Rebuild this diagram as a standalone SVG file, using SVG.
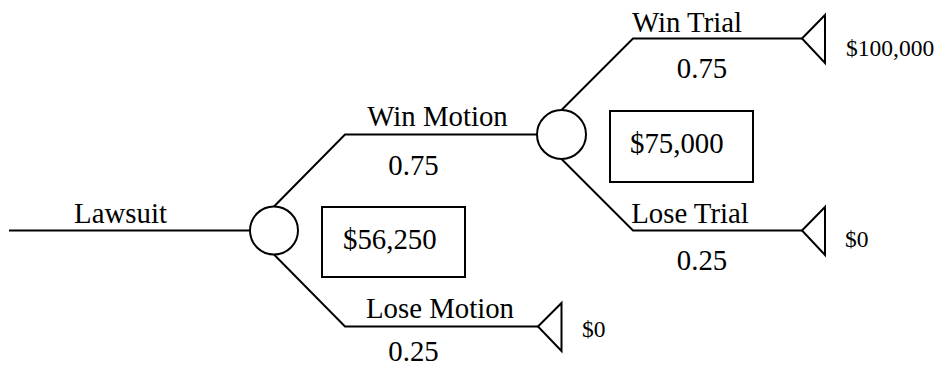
<svg xmlns="http://www.w3.org/2000/svg" width="936" height="368" viewBox="0 0 936 368">
<style>
.ln{stroke:#000;stroke-width:2;fill:none}
.nd{stroke:#000;stroke-width:2;fill:#fff}
.c{text-anchor:middle}
</style>
<rect width="936" height="368" fill="#fff"/>
<g id="connectors">
<path class="ln" d="M9,230.5 H250"/>
<path class="ln" d="M274,206.5 L345,134.5 H537.5"/>
<path class="ln" d="M274,254.5 L345,326.5 H538"/>
<path class="ln" d="M561.5,110 L633,38.5 H802"/>
<path class="ln" d="M561.5,159 L633,230.5 H802"/>
</g>
<g id="labels" font-family="Liberation Serif, Tinos, Times New Roman, DejaVu Serif, serif" font-size="28.8" fill="#000">
<text class="c" x="120.5" y="223">Lawsuit</text>
<text class="c" x="437.5" y="126">Win Motion</text>
<text class="c" x="413.5" y="175">0.75</text>
<text class="c" x="440" y="318">Lose Motion</text>
<text class="c" x="413.5" y="361">0.25</text>
<text class="c" x="687" y="32">Win Trial</text>
<text class="c" x="702" y="78">0.75</text>
<text class="c" x="690" y="223">Lose Trial</text>
<text class="c" x="702" y="270">0.25</text>
</g>
<g id="chance-motion">
<circle class="nd" cx="274" cy="230.5" r="24"/>
</g>
<g id="value-motion" font-family="Liberation Serif, Tinos, Times New Roman, DejaVu Serif, serif" font-size="28.8">
<rect class="ln" x="322" y="207" width="143" height="70"/>
<text x="343" y="249">$56,250</text>
</g>
<g id="chance-trial">
<circle class="nd" cx="561.5" cy="134.5" r="24.5"/>
</g>
<g id="value-trial" font-family="Liberation Serif, Tinos, Times New Roman, DejaVu Serif, serif" font-size="28.8">
<rect class="ln" x="610" y="111" width="143" height="71"/>
<text x="630" y="153">$75,000</text>
</g>
<g id="end-win-trial" font-family="Liberation Serif, Tinos, Times New Roman, DejaVu Serif, serif" font-size="23.5">
<path class="ln" d="M802,38.5 L825,15 V63 Z"/>
<text x="846" y="56">$100,000</text>
</g>
<g id="end-lose-trial" font-family="Liberation Serif, Tinos, Times New Roman, DejaVu Serif, serif" font-size="23.5">
<path class="ln" d="M802,230.5 L825,207 V255 Z"/>
<text x="845" y="246.5">$0</text>
</g>
<g id="end-lose-motion" font-family="Liberation Serif, Tinos, Times New Roman, DejaVu Serif, serif" font-size="23.5">
<path class="ln" d="M538,326.5 L561.5,303 V351 Z"/>
<text x="582" y="337">$0</text>
</g>
</svg>
